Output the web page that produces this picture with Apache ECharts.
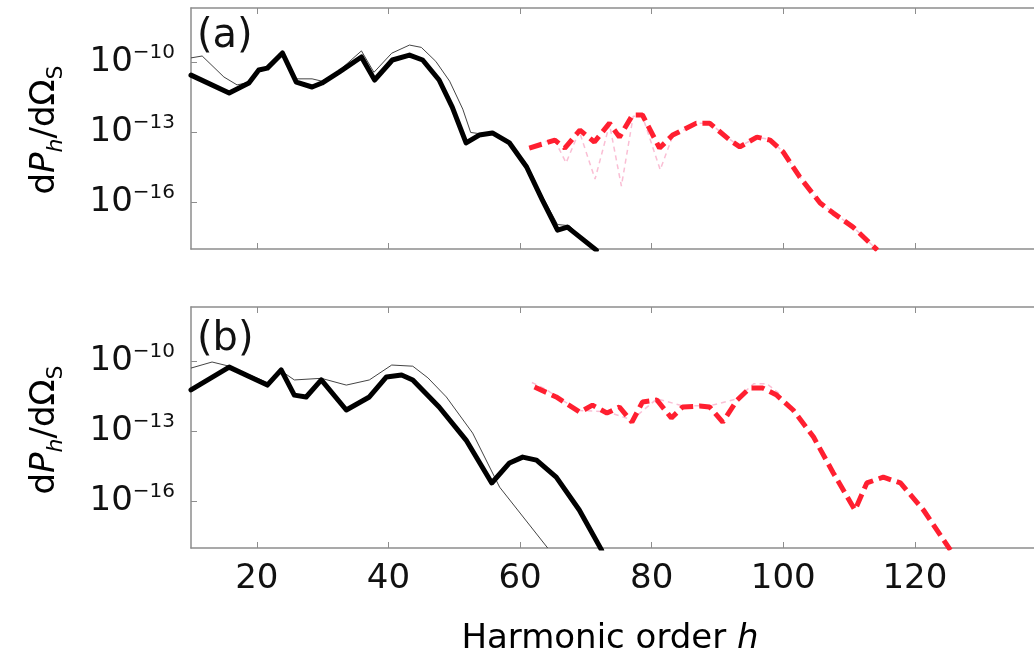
<!DOCTYPE html>
<html>
<head>
<meta charset="utf-8">
<title>Harmonic spectra</title>
<script src="https://cdn.jsdelivr.net/npm/echarts@6/dist/echarts.min.js"></script>
<style>
  html, body { margin: 0; padding: 0; background: #fff; }
  #chart { width: 1034px; height: 666px; }
</style>
</head>
<body>
<div id="chart"></div>
<script>
// Spectra are stored as log10 of dP_h/dΩ_S against harmonic order h.

// x-axis ticks (harmonic order) and y-axis ticks (decade exponents)
const harmonicTicks = [20, 40, 60, 80, 100, 120];
const decadeTicks = [-16, -13, -10];

// Panel (a): thick black curve
const hBlackA = [10, 15.8, 18.8, 20.3, 21.6, 23.9, 26, 28.4, 29.9, 32.5, 35.9, 37.9, 40.6, 43.2, 45.2, 47.7, 49.7, 51.8, 53.8, 55.8, 58.4, 61, 63.4, 65.7, 67.2, 71.6];
const logBlackA = [-10.54, -11.31, -10.88, -10.32, -10.24, -9.59, -10.84, -11.05, -10.88, -10.41, -9.76, -10.75, -9.89, -9.68, -9.89, -10.75, -11.91, -13.45, -13.11, -13.02, -13.45, -14.48, -15.9, -17.19, -17.06, -18.05];

// Panel (a): thin black curve
const hThinA = [10, 11.7, 15, 17, 18.8, 20.3, 21.6, 23.9, 26, 28.4, 29.9, 32.5, 35.9, 37.8, 40.5, 43.2, 45, 47.2, 49.3, 51.3, 52.5, 53.8, 55.8, 58.4, 61, 63.4, 65.7, 67.5, 71.2];
const logThinA = [-9.8, -9.72, -10.62, -10.96, -10.85, -10.3, -10.2, -9.55, -10.7, -10.7, -10.8, -10.35, -9.5, -10.42, -9.6, -9.25, -9.35, -9.95, -10.8, -12.0, -13.0, -13.05, -12.98, -13.4, -14.35, -15.75, -16.95, -17.0, -18.0];

// Panel (a): thick red dashed curve
const hRedA = [61.4, 65.3, 66.8, 69.1, 71.3, 73.6, 75.1, 77.1, 78.6, 81.2, 83.2, 86.8, 88.8, 91.9, 93.4, 96, 98, 100, 102.5, 105.6, 107.6, 110.6, 114.3];
const logRedA = [-13.67, -13.33, -13.67, -12.9, -13.41, -12.6, -13.2, -12.25, -12.25, -13.67, -13.11, -12.6, -12.6, -13.33, -13.62, -13.2, -13.33, -13.84, -14.91, -16.03, -16.46, -17.06, -18.05];

// Panel (a): thin pink dashed curve
const hPinkA = [61.4, 63.5, 65.3, 67, 69, 71.4, 73.6, 75.4, 77.2, 78.6, 81.3, 83.2, 86.8, 88.8, 91.9, 93.4, 96, 98, 100, 102.5, 105.6, 107.6, 110.6, 114.3];
const logPinkA = [-13.7, -13.4, -13.35, -14.3, -12.95, -15.0, -12.65, -15.3, -12.3, -12.3, -14.6, -13.15, -12.6, -12.6, -13.3, -13.6, -13.2, -13.3, -13.84, -14.9, -16.0, -16.45, -17.05, -18.05];

// Panel (b): thick black curve
const hBlackB = [10, 15.8, 21.6, 23.7, 25.7, 27.5, 29.8, 33.6, 37.1, 39.7, 42, 43.7, 47.7, 51.8, 55.7, 58.4, 60.4, 62.5, 65.5, 69, 72.4];
const logBlackB = [-11.22, -10.24, -11.01, -10.36, -11.44, -11.52, -10.79, -12.08, -11.52, -10.66, -10.58, -10.79, -11.95, -13.37, -15.21, -14.35, -14.1, -14.23, -14.96, -16.37, -18.09];

// Panel (b): thin black curve
const hThinB = [10, 13.2, 15.8, 21.6, 23.7, 25.7, 29.8, 33.6, 37.1, 40.5, 43.7, 46, 48.8, 52.8, 56.9, 64.2];
const logThinB = [-10.28, -10.02, -10.2, -10.9, -10.4, -10.79, -10.72, -11.01, -10.79, -10.15, -10.2, -10.7, -11.52, -13.07, -15.39, -18.0];

// Panel (b): thick red dashed curve
const hRedB = [62.2, 65.5, 69.1, 71, 73.2, 75.1, 77, 78.6, 80.8, 83, 84.7, 87.3, 88.8, 90.8, 93, 94.9, 96.9, 99, 101.5, 104.6, 107.6, 110.9, 112.7, 115.2, 117.8, 121.3, 125.4];
const logRedB = [-11.09, -11.52, -12.17, -11.87, -12.21, -11.95, -12.6, -11.74, -11.65, -12.42, -11.95, -11.91, -11.95, -12.6, -11.65, -11.14, -11.14, -11.44, -12.08, -13.24, -14.78, -16.37, -15.21, -14.96, -15.21, -16.37, -18.09];

// Panel (b): thin pink dashed curve
const hPinkB = [61.8, 64, 66, 69.1, 73.2, 77, 80.8, 84.7, 88.8, 93, 95.5, 97.5, 99.5];
const logPinkB = [-10.9, -11.2, -11.6, -12.1, -12.15, -12.5, -11.6, -11.9, -11.9, -11.6, -10.95, -10.95, -11.4];

const FONT = 'DejaVu Sans';
const AXIS_GREY = '#8d8d8d';

const pairs = (xs, ys) => xs.map((x, i) => [x, ys[i]]);

function xAxisFor(gridIndex, position, showLabels) {
  return {
    type: 'value', gridIndex, position,
    min: 10, max: 138.1,
    axisLine: { show: true, onZero: false, lineStyle: { color: AXIS_GREY, width: 1.5 } },
    splitLine: { show: false },
    axisTick: { show: true, inside: true, length: 6, customValues: harmonicTicks,
                lineStyle: { color: AXIS_GREY, width: 1 } },
    axisLabel: { show: showLabels, customValues: harmonicTicks, margin: 14,
                 fontFamily: FONT, fontSize: 34, color: '#111' }
  };
}

function yAxisFor(gridIndex) {
  return {
    type: 'value', gridIndex,
    min: -18, max: -7.66,
    axisLine: { show: true, onZero: false, lineStyle: { color: AXIS_GREY, width: 1.5 } },
    splitLine: { show: false },
    axisTick: { show: true, inside: true, length: 6, customValues: decadeTicks,
                lineStyle: { color: AXIS_GREY, width: 1 } },
    axisLabel: {
      customValues: decadeTicks, margin: 16,
      formatter: v => '{b|10}{s|\u2212' + Math.abs(v) + '}',
      rich: {
        b: { fontFamily: FONT, fontSize: 34, lineHeight: 40, color: '#111' },
        s: { fontFamily: FONT, fontSize: 20, lineHeight: 20, verticalAlign: 'top', color: '#111' }
      }
    }
  };
}

function lineSeries(xi, yi, xs, ys, style, z) {
  return {
    type: 'line', xAxisIndex: xi, yAxisIndex: yi,
    data: pairs(xs, ys), showSymbol: false, symbol: 'none',
    clip: true, z,
    lineStyle: style
  };
}

const thickBlack = { color: '#000', width: 5, cap: 'round', join: 'round' };
const thinBlack = { color: '#444', width: 1 };
const thickRed = { color: '#ff1f30', width: 5, type: [13, 6] };
const thinPink = { color: 'rgba(245,110,160,0.45)', width: 1.5, type: [5, 4] };

const yNameRich = {
  n: { fontFamily: FONT, fontSize: 34, lineHeight: 44, color: '#111' },
  i: { fontFamily: FONT, fontSize: 34, lineHeight: 44, fontStyle: 'italic', color: '#111' },
  hs: { fontFamily: FONT, fontSize: 22, lineHeight: 22, fontStyle: 'italic', verticalAlign: 'bottom', color: '#111' },
  ss: { fontFamily: FONT, fontSize: 22, lineHeight: 22, verticalAlign: 'bottom', color: '#111' }
};
const yNameText = '{n|d}{i|P}{hs|h}{n|/d\u03A9}{ss|S}';

function yName(cy) {
  return {
    type: 'text', x: 45, y: cy, rotation: Math.PI / 2,
    style: { text: yNameText, rich: yNameRich, align: 'center', verticalAlign: 'middle' }
  };
}

function panelLabel(text, cy) {
  return {
    type: 'text', x: 197, y: cy,
    style: { text, fontFamily: FONT, fontSize: 40, fill: '#111', align: 'left', verticalAlign: 'middle' }
  };
}

const chart = echarts.init(document.getElementById('chart'), null, { renderer: 'canvas' });
chart.setOption({
  animation: false,
  backgroundColor: '#fff',
  grid: [
    { left: 191, top: 8, height: 241, right: 0 },
    { left: 191, top: 307, height: 241, right: 0 }
  ],
  xAxis: [
    xAxisFor(0, 'bottom', false),
    xAxisFor(1, 'bottom', true),
    xAxisFor(0, 'top', false),
    xAxisFor(1, 'top', false)
  ],
  yAxis: [yAxisFor(0), yAxisFor(1)],
  series: [
    lineSeries(0, 0, hPinkA, logPinkA, thinPink, 1),
    lineSeries(0, 0, hThinA, logThinA, thinBlack, 2),
    lineSeries(0, 0, hBlackA, logBlackA, thickBlack, 3),
    lineSeries(0, 0, hRedA, logRedA, thickRed, 4),
    lineSeries(1, 1, hPinkB, logPinkB, thinPink, 1),
    lineSeries(1, 1, hThinB, logThinB, thinBlack, 2),
    lineSeries(1, 1, hBlackB, logBlackB, thickBlack, 3),
    lineSeries(1, 1, hRedB, logRedB, thickRed, 4)
  ],
  graphic: [
    yName(130),
    yName(430),
    panelLabel('(a)', 37),
    panelLabel('(b)', 340),
    {
      type: 'text', x: 610, y: 639,
      style: { text: '{n|Harmonic order }{i|h}',
               rich: {
                 n: { fontFamily: FONT, fontSize: 34, color: '#111' },
                 i: { fontFamily: FONT, fontSize: 34, fontStyle: 'italic', color: '#111' }
               },
               align: 'center', verticalAlign: 'middle' }
    }
  ]
});
</script>
</body>
</html>
